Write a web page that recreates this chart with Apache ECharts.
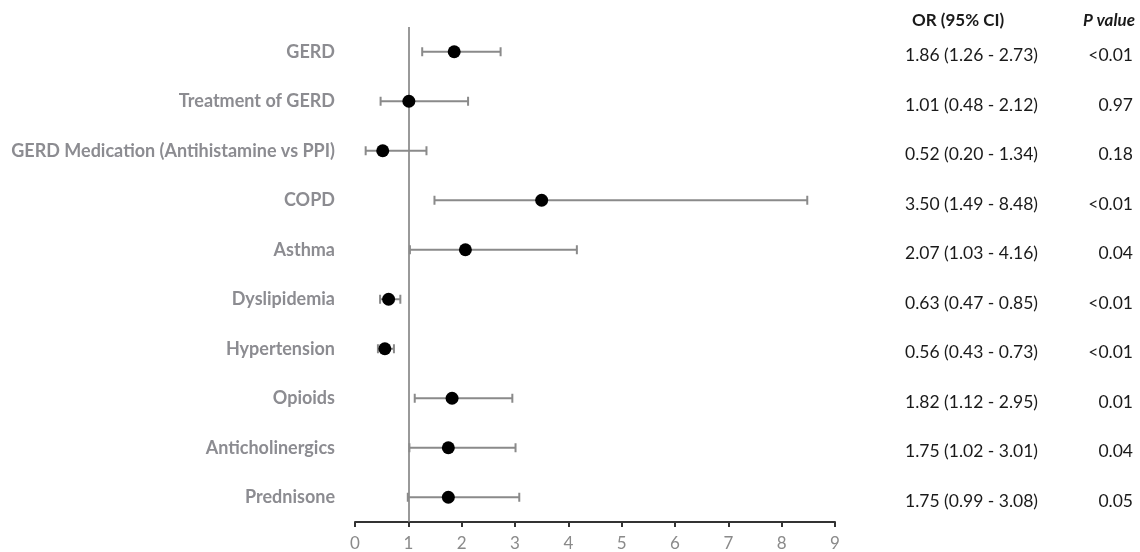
<!DOCTYPE html>
<html>
<head>
<meta charset="utf-8">
<script src="https://cdn.jsdelivr.net/npm/echarts@6/dist/echarts.min.js"></script>
<style>html,body{margin:0;padding:0;background:#fff;}#c{width:1140px;height:552px;}</style>
</head>
<body>
<div id="c"></div>
<script>
const categories = ['GERD', 'Treatment of GERD', 'GERD Medication (Antihistamine vs PPI)', 'COPD', 'Asthma', 'Dyslipidemia', 'Hypertension', 'Opioids', 'Anticholinergics', 'Prednisone'];
const oddsRatio = [1.86, 1.01, 0.52, 3.50, 2.07, 0.63, 0.56, 1.82, 1.75, 1.75];
const ciLower = [1.26, 0.48, 0.20, 1.49, 1.03, 0.47, 0.43, 1.12, 1.02, 0.99];
const ciUpper = [2.73, 2.12, 1.34, 8.48, 4.16, 0.85, 0.73, 2.95, 3.01, 3.08];
const pValues = ['<0.01', '0.97', '0.18', '<0.01', '0.04', '<0.01', '<0.01', '0.01', '0.04', '0.05'];
const xTicks = [0, 1, 2, 3, 4, 5, 6, 7, 8, 9];

const FONT = 'Lato, "Open Sans", sans-serif';
const chart = echarts.init(document.getElementById('c'), null, {renderer: 'canvas'});

const errData = categories.map((c, i) => [ciLower[i], ciUpper[i], i]);
const ptData = categories.map((c, i) => [oddsRatio[i], i]);

chart.setOption({
  animation: false,
  backgroundColor: '#fff',
  grid: {left: 355, right: 305, top: 27, bottom: 30, containLabel: false},
  xAxis: {
    type: 'value', min: xTicks[0], max: xTicks[xTicks.length - 1], interval: 1,
    axisLine: {show: true, lineStyle: {color: '#333', width: 2}},
    axisTick: {show: true, length: 5, lineStyle: {color: '#333', width: 2}},
    axisLabel: {color: '#8a8a8a', fontSize: 17, fontFamily: FONT, margin: 13},
    splitLine: {show: false}
  },
  yAxis: [{
    type: 'category', data: categories, inverse: true,
    axisLine: {show: false}, axisTick: {show: false},
    axisLabel: {color: '#8c8c91', fontSize: 18, fontWeight: 'bold', fontFamily: FONT, margin: 20}
  }, {
    type: 'category', data: categories, inverse: true, position: 'right',
    axisLine: {show: false}, axisTick: {show: false},
    axisLabel: {
      margin: 70, fontFamily: FONT,
      formatter: function (v, i) {
        return '{or|' + oddsRatio[i].toFixed(2) + ' (' + ciLower[i].toFixed(2) + ' - ' + ciUpper[i].toFixed(2) + ')}{p|' + pValues[i] + '}';
      },
      rich: {
        or: {width: 170, color: '#1a1a1a', fontSize: 17.5, fontFamily: FONT, align: 'left', padding: [8, 0, 0, 0]},
        p: {width: 58, color: '#1a1a1a', fontSize: 17.5, fontFamily: FONT, align: 'right', padding: [8, 0, 0, 0]}
      }
    }
  }],
  graphic: [
    {type: 'text', left: 912, top: 12, style: {text: 'OR (95% CI)', fill: '#1a1a1a', font: 'bold 17px ' + FONT}},
    {type: 'text', right: 5, top: 12, style: {text: 'P value', fill: '#1a1a1a', font: 'italic bold 17px ' + FONT}}
  ],
  series: [{
    type: 'custom',
    yAxisIndex: 0,
    data: errData,
    encode: {x: [0, 1], y: 2},
    renderItem: function (params, api) {
      const a = api.coord([api.value(0), api.value(2)]);
      const b = api.coord([api.value(1), api.value(2)]);
      const h = 4.5;
      const st = {stroke: '#8a8a8a', lineWidth: 2};
      return {type: 'group', children: [
        {type: 'line', shape: {x1: a[0], y1: a[1], x2: b[0], y2: b[1]}, style: st},
        {type: 'line', shape: {x1: a[0], y1: a[1] - h, x2: a[0], y2: a[1] + h}, style: st},
        {type: 'line', shape: {x1: b[0], y1: b[1] - h, x2: b[0], y2: b[1] + h}, style: st}
      ]};
    },
    z: 2
  }, {
    type: 'scatter',
    yAxisIndex: 0,
    data: ptData,
    symbol: 'circle', symbolSize: 13,
    itemStyle: {color: '#000', opacity: 1},
    z: 4,
    markLine: {
      silent: true, symbol: ['none', 'none'],
      label: {show: false},
      lineStyle: {color: '#777', width: 1.5, type: 'solid'},
      data: [{xAxis: 1}],
      z: 1
    }
  }]
});
</script>
</body>
</html>
